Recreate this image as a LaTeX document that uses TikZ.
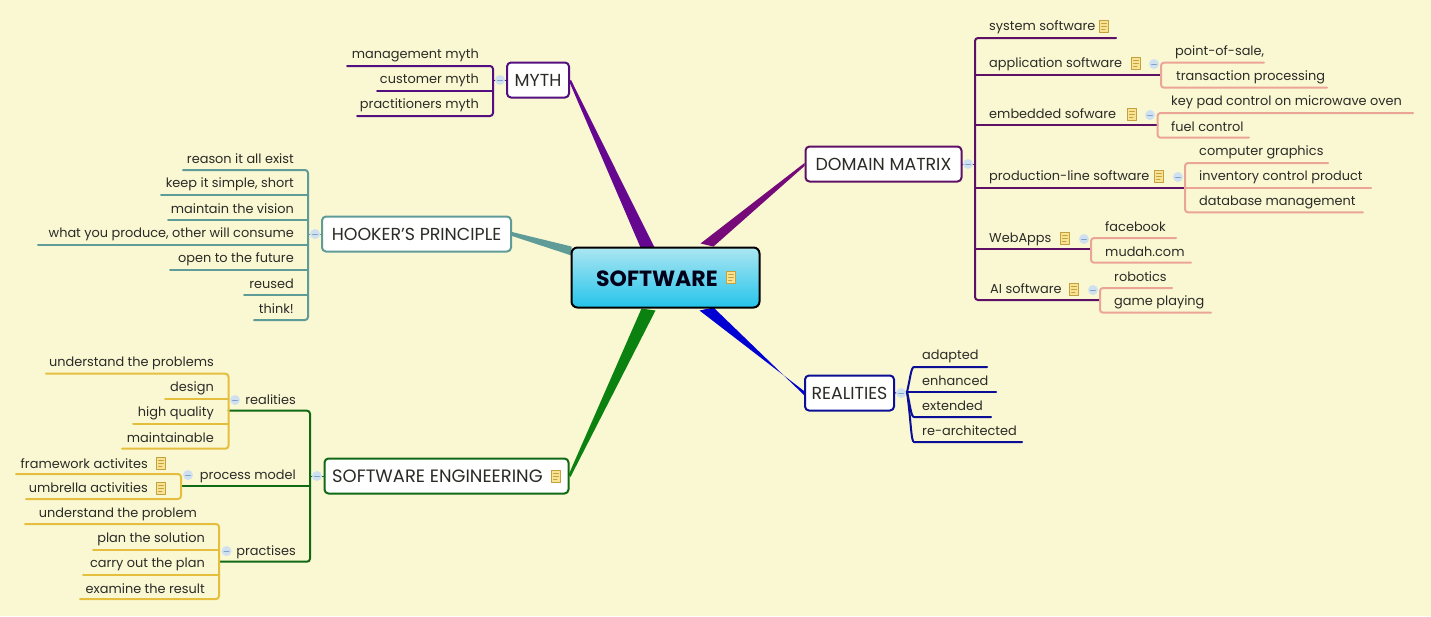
\documentclass[tikz,border=0pt]{standalone}
\usepackage{fontspec}
\setmainfont{Poppins}
\usetikzlibrary{calc,backgrounds}
\definecolor{softPaper}{HTML}{FAF8D3}
\definecolor{softInk}{HTML}{2B2B26}
\definecolor{softPlum}{HTML}{5E1164}
\definecolor{softPlumTwo}{HTML}{760A78}
\definecolor{softViolet}{HTML}{530F80}
\definecolor{softVioletTwo}{HTML}{65088F}
\definecolor{softTeal}{HTML}{5F9C98}
\definecolor{softGreen}{HTML}{106A14}
\definecolor{softGreenTwo}{HTML}{0B8210}
\definecolor{softBlue}{HTML}{0B0F96}
\definecolor{softBlueTwo}{HTML}{0000D2}
\definecolor{softSalmon}{HTML}{EBA596}
\definecolor{softGold}{HTML}{E6BE3E}
\definecolor{softNote}{HTML}{F7E391}
\definecolor{softNoteLine}{HTML}{C4A040}
\definecolor{softMinus}{HTML}{CFE1F1}
\definecolor{softMinusLine}{HTML}{7FA3C6}
\definecolor{softSkyTop}{HTML}{ACE6F2}
\definecolor{softSkyBot}{HTML}{25C4EA}
\begin{document}
\begin{tikzpicture}[x=1pt,y=-1pt,line cap=round,line join=round]
\tikzset{
txt/.style={text=softInk,inner sep=0pt,text height=9pt,text depth=3pt,yshift=-1.5pt,font=\fontsize{12.9}{15}\selectfont},
topic/.style={draw,fill=white,rounded corners=4pt,line width=2pt,inner sep=0pt,minimum height=35pt,text=softInk,font=\fontsize{17.4}{20}\selectfont},
root/.style={draw=black,rounded corners=6pt,line width=2pt,top color=softSkyTop,bottom color=softSkyBot,inner sep=0pt,minimum width=188pt,minimum height=60pt},
plumline/.style={draw=softPlum,line width=2pt,rounded corners=3pt},
violetline/.style={draw=softViolet,line width=2pt,rounded corners=3pt},
tealline/.style={draw=softTeal,line width=2pt,rounded corners=3pt},
greenline/.style={draw=softGreen,line width=2pt,rounded corners=3pt},
blueline/.style={draw=softBlue,line width=2pt,rounded corners=3pt},
salmonline/.style={draw=softSalmon,line width=2pt,rounded corners=3pt},
goldline/.style={draw=softGold,line width=2pt,rounded corners=3pt},
noteicon/.style={draw=softNoteLine,fill=softNote,line width=.8pt,inner sep=0pt,minimum width=9pt,minimum height=12pt,
  path picture={\draw[softNoteLine,line width=.7pt] ($(path picture bounding box.north west)+(2,3)$) -- +(5,0) +(0,3) -- +(5,3) +(0,6) -- +(3.5,6);}},
minusicon/.style={circle,fill=softMinus,draw=softMinus,inner sep=0pt,minimum size=9.5pt,
  path picture={\draw[softMinusLine,line width=.8pt] ($(path picture bounding box.center)+(-2.4,0)$) -- +(4.8,0);}}
}
\useasboundingbox (0,0) rectangle (1431,616);
% main topics
\node[topic,draw=softViolet,minimum width=62pt] (myth) at (538,80) {MYTH};
\node[topic,draw=softPlum,minimum width=156pt] (domain) at (883.5,164) {DOMAIN MATRIX};
\node[topic,draw=softTeal,minimum width=189pt] (hooker) at (416.5,234) {HOOKER'S PRINCIPLE};
\node[topic,draw=softBlue,minimum width=89pt] (realities) at (849.5,393) {REALITIES};
\node[topic,draw=softGreen,minimum width=244pt] (engineering) at (446.5,476) {};
\node[txt,anchor=west,font=\fontsize{17.9}{20}\selectfont] (engineeringText) at (332,478) {SOFTWARE ENGINEERING};
\node[noteicon] (engineeringNote) at (556,476) {};
\node[root] (software) at (665.5,277.5) {};
\node[txt,anchor=west,text=black!90!blue,font=\fontsize{22}{24}\selectfont\bfseries] (softwareText) at (596,282) {SOFTWARE};
\node[noteicon] (softwareNote) at (731,277) {};
% tapered branches from the centre
\begin{scope}[on background layer]
\path[fill=softPaper] (0,0) rectangle (1431,616);
\fill[softVioletTwo] ($(myth.east)+(-1,1)$) -- ($(software.north)+(-25,1)$) -- ($(software.north)+(-11,1)$) -- ($(myth.east)+(1,0)$) -- cycle;
\fill[softPlumTwo] ($(domain.west)+(0,-1)$) -- ($(software.north)+(35,-3)$) -- ($(software.north)+(48,0)$) -- ($(domain.west)+(0,2)$) -- cycle;
\fill[softTeal] ($(hooker.east)+(0,-2)$) -- ($(software.north west)+(1,0)$) -- ($(software.north west)+(1,9)$) -- ($(hooker.east)+(0,2)$) -- cycle;
\fill[softBlueTwo] ($(realities.west)+(0,-2)$) -- ($(software.south)+(34,2)$) -- ($(software.south)+(48,-1)$) -- ($(realities.west)+(0,2)$) -- cycle;
\fill[softGreenTwo] ($(engineering.east)+(-1,-1)$) -- ($(software.south)+(-24,0)$) -- ($(software.south)+(-10,2)$) -- ($(engineering.east)+(1,1)$) -- cycle;
\end{scope}
% domain matrix
\coordinate (dmTop) at (975,38); \coordinate (dmBot) at (975,300);
\coordinate (sysEnd) at (1116,38); \coordinate (appEnd) at (1161,75); \coordinate (embEnd) at (1157.5,125.3);
\coordinate (prodEnd) at (1185,187.7); \coordinate (webEnd) at (1091,249.3); \coordinate (aiEnd) at (1100,300);
\draw[plumline] (sysEnd) -- (dmTop) -- (dmBot) -- (aiEnd);
\draw[plumline] (dmTop |- appEnd) -- (appEnd);
\draw[plumline] (dmTop |- embEnd) -- (embEnd);
\draw[plumline] (dmTop |- prodEnd) -- (prodEnd);
\draw[plumline] (dmTop |- webEnd) -- (webEnd);
\draw[plumline,line width=1pt] (domain.east) -- (dmTop |- domain.east);
\node[minusicon] (domainMinus) at (968,164) {};
\node[txt,anchor=west] (sys) at (989,26) {system software};
\node[txt,anchor=west] (app) at (989,63) {application software};
\node[txt,anchor=west] (emb) at (989,114) {embedded sofware};
\node[txt,anchor=west] (prod) at (989,176) {production-line software};
\node[txt,anchor=west] (web) at (989,238) {WebApps};
\node[txt,anchor=west] (ai) at (990,289) {AI software};
\node[noteicon] (sysNote) at (1104,26) {}; \node[noteicon] (appNote) at (1136,63) {}; \node[noteicon] (embNote) at (1132,114) {};
\node[noteicon] (prodNote) at (1159,176) {}; \node[noteicon] (webNote) at (1065,238) {}; \node[noteicon] (aiNote) at (1074,289) {};
\node[minusicon] (appMinus) at (1154,64) {}; \node[minusicon] (embMinus) at (1150,115) {}; \node[minusicon] (prodMinus) at (1178,177) {};
\node[minusicon] (webMinus) at (1084,239) {}; \node[minusicon] (aiMinus) at (1093,290) {};
% application software
\node[txt,anchor=west] (pos) at (1175,51) {point-of-sale,};
\node[txt,anchor=west] (trans) at (1176,76) {transaction processing};
\coordinate (posEnd) at (1264,62.7); \coordinate (transEnd) at (1327,87.7);
\draw[salmonline] (posEnd) -- (appEnd |- posEnd) -- (appEnd |- transEnd) -- (transEnd);
% embedded sofware
\node[txt,anchor=west] (keypad) at (1171,101) {key pad control on microwave oven};
\node[txt,anchor=west] (fuel) at (1171,127) {fuel control};
\coordinate (keypadEnd) at (1413,113); \coordinate (fuelEnd) at (1249,137.7);
\draw[salmonline] (keypadEnd) -- (embEnd |- keypadEnd) -- (embEnd |- fuelEnd) -- (fuelEnd);
% production-line software
\node[txt,anchor=west] (graphics) at (1199,151) {computer graphics};
\node[txt,anchor=west] (inventory) at (1199,176) {inventory control product};
\node[txt,anchor=west] (database) at (1199,201) {database management};
\coordinate (graphicsEnd) at (1328,163); \coordinate (inventoryEnd) at (1371,187.7); \coordinate (databaseEnd) at (1363,212.3);
\draw[salmonline] (graphicsEnd) -- (prodEnd |- graphicsEnd) -- (prodEnd |- databaseEnd) -- (databaseEnd);
\draw[salmonline] (prodEnd) -- (inventoryEnd);
% webapps
\node[txt,anchor=west] (facebook) at (1105,227) {facebook};
\node[txt,anchor=west] (mudah) at (1105,252) {mudah.com};
\coordinate (facebookEnd) at (1176,238); \coordinate (mudahEnd) at (1191,262.7);
\draw[salmonline] (facebookEnd) -- (webEnd |- facebookEnd) -- (webEnd |- mudahEnd) -- (mudahEnd);
% ai software
\node[txt,anchor=west] (robotics) at (1114,277) {robotics};
\node[txt,anchor=west] (game) at (1114,301) {game playing};
\coordinate (roboticsEnd) at (1172,288); \coordinate (gameEnd) at (1211,312.7);
\draw[salmonline] (roboticsEnd) -- (aiEnd |- roboticsEnd) -- (aiEnd |- gameEnd) -- (gameEnd);
% myth
\node[txt,anchor=east] (management) at (479,54) {management myth};
\node[txt,anchor=east] (customer) at (479,79) {customer myth};
\node[txt,anchor=east] (practitioners) at (479,104) {practitioners myth};
\coordinate (mythTop) at (493,66); \coordinate (mythBot) at (493,116);
\coordinate (managementEnd) at (347,66); \coordinate (customerEnd) at (377,91); \coordinate (practitionersEnd) at (357,116);
\draw[violetline] (managementEnd) -- (mythTop) -- (mythBot) -- (practitionersEnd);
\draw[violetline] (customerEnd) -- (mythTop |- customerEnd);
\draw[violetline,line width=1pt] (myth.west) -- (mythTop |- myth.west);
\node[minusicon] (mythMinus) at (500,80) {};
% hooker's principle
\node[txt,anchor=east] (reason) at (294,159) {reason it all exist};
\node[txt,anchor=east] (simple) at (294,183) {keep it simple, short};
\node[txt,anchor=east] (vision) at (294,209) {maintain the vision};
\node[txt,anchor=east] (produce) at (294,233) {what you produce, other will consume};
\node[txt,anchor=east] (future) at (294,258) {open to the future};
\node[txt,anchor=east] (reused) at (294,284) {reused};
\node[txt,anchor=east] (think) at (294,309) {think!};
\coordinate (hookerTop) at (308,170); \coordinate (hookerBot) at (308,320);
\coordinate (reasonEnd) at (183,170); \coordinate (simpleEnd) at (161,195); \coordinate (visionEnd) at (168,220);
\coordinate (produceEnd) at (38,245); \coordinate (futureEnd) at (170,270); \coordinate (reusedEnd) at (244,295); \coordinate (thinkEnd) at (254,320);
\draw[tealline] (reasonEnd) -- (hookerTop) -- (hookerBot) -- (thinkEnd);
\draw[tealline] (simpleEnd) -- (hookerTop |- simpleEnd);
\draw[tealline] (visionEnd) -- (hookerTop |- visionEnd);
\draw[tealline] (produceEnd) -- (hookerTop |- produceEnd);
\draw[tealline] (futureEnd) -- (hookerTop |- futureEnd);
\draw[tealline] (reusedEnd) -- (hookerTop |- reusedEnd);
\draw[tealline,line width=1pt] (hooker.west) -- (hookerTop |- hooker.west);
\node[minusicon] (hookerMinus) at (315,234) {};
% realities
\node[txt,anchor=west] (adapted) at (922,355) {adapted};
\node[txt,anchor=west] (enhanced) at (922,381) {enhanced};
\node[txt,anchor=west] (extended) at (922,406) {extended};
\node[txt,anchor=west] (rearch) at (922,431) {re-architected};
\coordinate (realJoin) at (907,392);
\coordinate (adaptedEnd) at (987,367); \coordinate (enhancedEnd) at (996,392); \coordinate (extendedEnd) at (991,417); \coordinate (rearchEnd) at (1022,442);
\draw[blueline] (adaptedEnd) -- (917,367) .. controls (911,367) and (910,380) .. (realJoin);
\draw[blueline] (extendedEnd) -- (917,417) .. controls (911,417) and (910,404) .. (realJoin);
\draw[blueline] (rearchEnd) -- (917,442) .. controls (911,442) and (911,420) .. (realJoin);
\draw[blueline] (realJoin) -- (enhancedEnd);
\draw[blueline,line width=1pt] (realities.east) -- (realJoin);
\node[minusicon] (realMinus) at (901,393) {};
% software engineering
\coordinate (seTop) at (310,410.7); \coordinate (seBot) at (310,561.7);
\coordinate (realEnd) at (228.5,410.7); \coordinate (procEnd) at (181,485.7); \coordinate (pracEnd) at (219,561.7);
\draw[greenline] (realEnd) -- (seTop) -- (seBot) -- (pracEnd);
\draw[greenline] (procEnd) -- (seTop |- procEnd);
\draw[greenline,line width=1pt] (engineering.west) -- (seTop |- engineering.west);
\node[minusicon] (seMinus) at (317,476) {};
\node[txt,anchor=east] (realSub) at (296,400) {realities};
\node[txt,anchor=east] (procSub) at (296,474.5) {process model};
\node[txt,anchor=east] (pracSub) at (296,550.5) {practises};
\node[minusicon] (realSubMinus) at (235,400) {}; \node[minusicon] (procMinus) at (188,475) {}; \node[minusicon] (pracMinus) at (226.5,551) {};
% realities leaves
\node[txt,anchor=east] (problems) at (214,362) {understand the problems};
\node[txt,anchor=east] (design) at (214,387) {design};
\node[txt,anchor=east] (quality) at (214,412) {high quality};
\node[txt,anchor=east] (maintain) at (214,438) {maintainable};
\coordinate (problemsEnd) at (46,373.7); \coordinate (designEnd) at (165,398.7); \coordinate (qualityEnd) at (133,424); \coordinate (maintainEnd) at (122,448.7);
\draw[goldline] (problemsEnd) -- (realEnd |- problemsEnd) -- (realEnd |- maintainEnd) -- (maintainEnd);
\draw[goldline] (designEnd) -- (realEnd |- designEnd);
\draw[goldline] (qualityEnd) -- (realEnd |- qualityEnd);
% process model leaves
\node[txt,anchor=east] (framework) at (148,463.5) {framework activites};
\node[txt,anchor=east] (umbrella) at (148,488) {umbrella activities};
\node[noteicon] (frameworkNote) at (161,463) {}; \node[noteicon] (umbrellaNote) at (161,488) {};
\coordinate (frameworkEnd) at (16,474); \coordinate (umbrellaEnd) at (26,499);
\draw[goldline] (frameworkEnd) -- (procEnd |- frameworkEnd) -- (procEnd |- umbrellaEnd) -- (umbrellaEnd);
% practises leaves
\node[txt,anchor=east] (problem) at (197,513) {understand the problem};
\node[txt,anchor=east] (plan) at (205,538) {plan the solution};
\node[txt,anchor=east] (carry) at (205,563) {carry out the plan};
\node[txt,anchor=east] (examine) at (205,589) {examine the result};
\coordinate (problemEnd) at (25,524); \coordinate (planEnd) at (93,550); \coordinate (carryEnd) at (83,574.7); \coordinate (examineEnd) at (80,599);
\draw[goldline] (problemEnd) -- (pracEnd |- problemEnd) -- (pracEnd |- examineEnd) -- (examineEnd);
\draw[goldline] (planEnd) -- (pracEnd |- planEnd);
\draw[goldline] (carryEnd) -- (pracEnd |- carryEnd);
\end{tikzpicture}
\end{document}
